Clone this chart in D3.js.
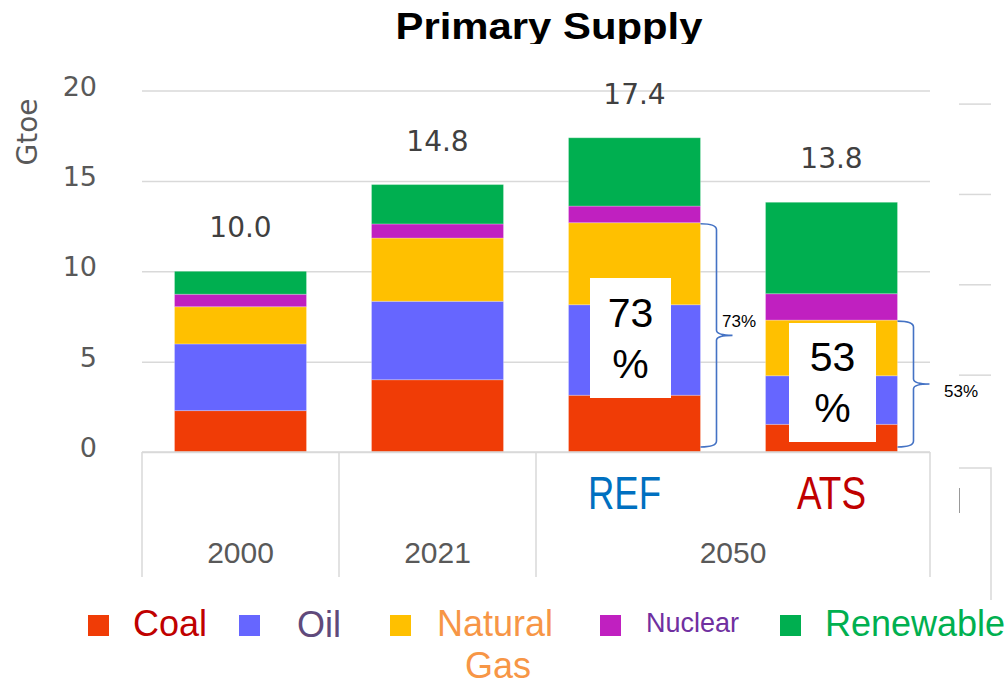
<!DOCTYPE html>
<html>
<head>
<meta charset="utf-8">
<script src="https://cdn.jsdelivr.net/npm/d3@7"></script>
<style>
  body { margin: 0; background: #fff; }
  svg { display: block; }
</style>
</head>
<body>
<svg id="chart" width="1005" height="685"></svg>
<script>
"use strict";

// values (Gtoe)
var categories = ["2000", "2021", "REF", "ATS"];
var groups = ["2000", "2021", "2050"];
var sources = ["Coal", "Oil", "Natural Gas", "Nuclear", "Renewable"];
var coal = [2.29, 4.0, 3.14, 1.53];
var oil = [3.69, 4.34, 5.01, 2.69];
var gas = [2.06, 3.5, 4.54, 3.08];
var nuclear = [0.69, 0.78, 0.92, 1.46];
var renewable = [1.27, 2.18, 3.78, 5.06];
var yTicks = [0, 5, 10, 15, 20];

var barColors = ["#F03C06", "#6666FF", "#FFC000", "#C020C0", "#00AF50"];
var textColors = ["#C00000", "#604A7B", "#F79646", "#7030A0", "#00B050"];

var width = 1005;
var height = 685;
var svg = d3.select("#chart");

var x = d3.scaleBand().domain(categories).range([142, 930]).paddingInner(0.33).paddingOuter(0.165);
var y = d3.scaleLinear().domain([0, 20]).range([452, 90.6]);

var rows = categories.map(function (c, i) {
  return { cat: c, Coal: coal[i], Oil: oil[i], "Natural Gas": gas[i], Nuclear: nuclear[i], Renewable: renewable[i] };
});
var stacked = d3.stack().keys(sources)(rows);

// title, cut off at the bottom like the original
svg.append("clipPath").attr("id", "titleClip").append("rect").attr("x", 0).attr("y", 0).attr("width", width).attr("height", 44);
svg.append("text").attr("clip-path", "url(#titleClip)")
  .attr("x", 549).attr("y", 39).attr("text-anchor", "middle")
  .attr("textLength", 307).attr("lengthAdjust", "spacingAndGlyphs")
  .style("font-family", "Liberation Sans, Arial, sans-serif").style("font-weight", "bold").style("font-size", "37px")
  .text("Primary Supply");

// grid + y axis
var yAxis = svg.append("g").attr("transform", "translate(142,0)")
  .call(d3.axisLeft(y).tickValues(yTicks).tickSize(-788).tickPadding(45).tickFormat(d3.format("d")));
yAxis.select(".domain").remove();
yAxis.selectAll(".tick line").attr("stroke", "#d9d9d9").attr("stroke-width", 1.5);
yAxis.selectAll(".tick text").attr("fill", "#595959").attr("y", -4)
  .style("font-family", "DejaVu Sans, Verdana, sans-serif").style("font-size", "27px");

svg.append("text").attr("transform", "translate(37,132) rotate(-90)")
  .attr("text-anchor", "middle").attr("fill", "#595959")
  .style("font-family", "DejaVu Sans, Verdana, sans-serif").style("font-size", "28px")
  .text("Gtoe");

// stray axis marks at the right edge of the slide
svg.append("g").selectAll("line").data(yTicks.slice(1)).enter().append("line")
  .attr("x1", 959).attr("x2", 991)
  .attr("y1", function (d) { return y(d) + 13.5; }).attr("y2", function (d) { return y(d) + 13.5; })
  .attr("stroke", "#d9d9d9").attr("stroke-width", 1.5);
svg.append("path").attr("d", "M959,468H991V600").attr("fill", "none").attr("stroke", "#d9d9d9").attr("stroke-width", 1.5);
svg.append("line").attr("x1", 959.5).attr("x2", 959.5).attr("y1", 488).attr("y2", 513).attr("stroke", "#999").attr("stroke-width", 1);

// stacked bars
svg.append("g").selectAll("g").data(stacked).enter().append("g")
  .attr("fill", function (d, i) { return barColors[i]; })
  .selectAll("rect").data(function (d) { return d; }).enter().append("rect")
  .attr("x", function (d) { return x(d.data.cat); })
  .attr("width", x.bandwidth())
  .attr("y", function (d) { return y(d[1]); })
  .attr("height", function (d) { return y(d[0]) - y(d[1]); })
  .attr("stroke", "#fff").attr("stroke-opacity", 0.25).attr("stroke-width", 1);

// totals
var totals = rows.map(function (r) { return d3.sum(sources, function (k) { return r[k]; }); });
svg.append("g").selectAll("text").data(categories).enter().append("text")
  .attr("x", function (d) { return x(d) + x.bandwidth() / 2; })
  .attr("y", function (d, i) { return y(totals[i]) - 34; })
  .attr("text-anchor", "middle").attr("fill", "#404040")
  .style("font-family", "DejaVu Sans, Verdana, sans-serif").style("font-size", "28px")
  .text(function (d, i) { return d3.format(".1f")(totals[i]); });

// category axis
var step = x.step();
var x0 = x.range()[0];
svg.append("line").attr("x1", 142).attr("x2", 930).attr("y1", y(0)).attr("y2", y(0))
  .attr("stroke", "#d9d9d9").attr("stroke-width", 1.5);
var seps = [0, 1, 2, 4];
svg.append("g").selectAll("line").data(seps).enter().append("line")
  .attr("x1", function (d) { return x0 + d * step; }).attr("x2", function (d) { return x0 + d * step; })
  .attr("y1", y(0)).attr("y2", 577)
  .attr("stroke", "#d9d9d9").attr("stroke-width", 1.5);
var groupCenters = [x0 + 0.5 * step, x0 + 1.5 * step, x0 + 3 * step];
svg.append("g").selectAll("text").data(groups).enter().append("text")
  .attr("x", function (d, i) { return groupCenters[i]; }).attr("y", 563)
  .attr("text-anchor", "middle").attr("fill", "#595959")
  .style("font-family", "Liberation Sans, Arial, sans-serif").style("font-size", "30px")
  .text(function (d) { return d; });

var scenColors = { REF: "#0070C0", ATS: "#C00000" };
svg.append("g").selectAll("text").data(["REF", "ATS"]).enter().append("text")
  .attr("x", function (d) { return x(d) + x.bandwidth() / 2 + (d === "REF" ? -10 : 0); }).attr("y", 509)
  .attr("text-anchor", "middle").attr("fill", function (d) { return scenColors[d]; })
  .attr("textLength", function (d) { return d === "REF" ? 73 : 69; }).attr("lengthAdjust", "spacingAndGlyphs")
  .style("font-family", "Liberation Sans Narrow, Arial Narrow, sans-serif").style("font-size", "47px")
  .text(function (d) { return d; });

// fossil share annotations
function brace(xa, yt, yb, w) {
  var xm = xa + w, xt = xa + 2 * w, ym = (yt + yb) / 2;
  return "M" + xa + "," + yt + "Q" + xm + "," + yt + " " + xm + "," + (yt + 6) +
    "V" + (ym - 5) + "Q" + xm + "," + ym + " " + xt + "," + ym +
    "Q" + xm + "," + ym + " " + xm + "," + (ym + 5) +
    "V" + (yb - 6) + "Q" + xm + "," + yb + " " + xa + "," + yb;
}

var notes = [
  { cat: "REF", box: [590, 278, 81, 120], numY: 327, pctY: 378, braceW: 16, lx: 722, ly: 327 },
  { cat: "ATS", box: [789, 323, 87, 119], numY: 371, pctY: 422, braceW: 16, lx: 944, ly: 397 }
];
notes.forEach(function (n) {
  var i = categories.indexOf(n.cat);
  var fossil = coal[i] + oil[i] + gas[i];
  var share = d3.format(".0f")(fossil / totals[i] * 100);
  var g = svg.append("g");
  g.append("rect").attr("x", n.box[0]).attr("y", n.box[1]).attr("width", n.box[2]).attr("height", n.box[3]).attr("fill", "#fff");
  var cx = n.box[0] + n.box[2] / 2;
  g.append("text").attr("x", cx).attr("y", n.numY).attr("text-anchor", "middle").attr("fill", "#000")
    .style("font-family", "Liberation Sans, Arial, sans-serif").style("font-size", "41px").text(share);
  g.append("text").attr("x", cx).attr("y", n.pctY).attr("text-anchor", "middle").attr("fill", "#000")
    .style("font-family", "Liberation Sans, Arial, sans-serif").style("font-size", "41px").text("%");
  var xa = x(n.cat) + x.bandwidth();
  g.append("path").attr("d", brace(xa, y(fossil) + 1, y(0) - 5, n.braceW))
    .attr("fill", "none").attr("stroke", "#4472C4").attr("stroke-width", 1.6);
  g.append("text").attr("x", n.lx).attr("y", n.ly).attr("fill", "#000")
    .style("font-family", "Liberation Sans, Arial, sans-serif").style("font-size", "17px").text(share + "%");
});

// legend
var legendX = [88, 239, 390, 600, 780];
var legendSize = [36, 36, 36, 27, 36];
var legendBase = [636, 637, 636, 632, 636];
var legend = svg.append("g").selectAll("g").data(sources).enter().append("g");
legend.append("rect")
  .attr("x", function (d, i) { return legendX[i]; }).attr("y", 615)
  .attr("width", 21).attr("height", 21)
  .attr("fill", function (d, i) { return barColors[i]; });
legend.append("text")
  .attr("x", function (d, i) { return legendX[i] + (i === 1 ? 58 : i === 2 ? 47 : i === 3 ? 46 : 45); })
  .attr("y", function (d, i) { return legendBase[i]; })
  .attr("fill", function (d, i) { return textColors[i]; })
  .style("font-family", "Liberation Sans, Arial, sans-serif")
  .style("font-size", function (d, i) { return legendSize[i] + "px"; })
  .each(function (d) {
    var t = d3.select(this);
    var parts = d.split(" ");
    if (parts.length === 1) { t.text(d); return; }
    t.append("tspan").text(parts[0]);
    t.append("tspan").attr("x", 498).attr("y", 678).attr("text-anchor", "middle").text(parts[1]);
  });
</script>
</body>
</html>
